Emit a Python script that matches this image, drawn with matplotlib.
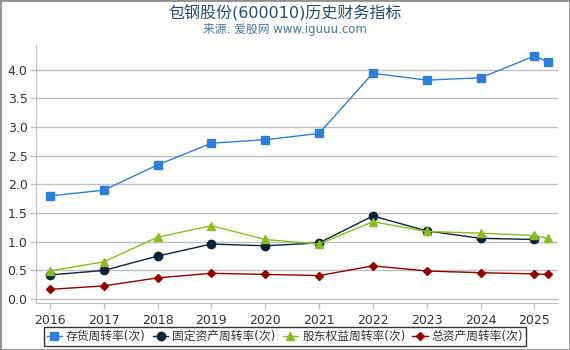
import matplotlib.pyplot as plt
import numpy as np

plt.rcParams['font.family'] = ['DejaVu Sans', 'Noto Sans CJK SC']

# periods (last one is the partial 2025 report)
periods = [2016, 2017, 2018, 2019, 2020, 2021, 2022, 2023, 2024, 2025, 2025.25]
year_ticks = [2016, 2017, 2018, 2019, 2020, 2021, 2022, 2023, 2024, 2025]

inventory = [1.80, 1.90, 2.34, 2.72, 2.78, 2.89, 3.94, 3.82, 3.86, 4.24, 4.14]
fixed_asset = [0.42, 0.50, 0.75, 0.96, 0.93, 0.98, 1.45, 1.19, 1.06, 1.04, np.nan]
equity = [0.49, 0.65, 1.08, 1.28, 1.04, 0.96, 1.35, 1.18, 1.15, 1.11, 1.06]
total_asset = [0.17, 0.23, 0.37, 0.45, 0.43, 0.41, 0.58, 0.49, 0.46, 0.44, 0.43]

names = ["存货周转率(次)", "固定资产周转率(次)", "股东权益周转率(次)", "总资产周转率(次)"]
colors = ["#2f7ed8", "#0d233a", "#8bbc21", "#910000"]
markers = ["s", "o", "^", "D"]
msizes = [6, 6, 6, 4.5]

fig = plt.figure(figsize=(5.7, 3.5), dpi=100)
ax = fig.add_axes([0.063, 0.134, 0.916, 0.737])

series = [inventory, fixed_asset, equity, total_asset]
for vals, name, c, m, ms in zip(series, names, colors, markers, msizes):
    ax.plot(periods, vals, color=c, lw=1, marker=m, markersize=ms,
            markeredgecolor=c, label=name, zorder=3)

ax.set_xlim(2015.74, 2025.44)
ax.set_ylim(-0.07, 4.43)
ax.set_xticks(year_ticks)
ax.set_yticks(np.arange(0, 4.01, 0.5))
ax.yaxis.set_major_formatter(plt.FuncFormatter(lambda v, p: "%.1f" % v))
ax.grid(axis='y', color='#c0c0c0', lw=1)
ax.set_axisbelow(True)
for s in ['top', 'right']:
    ax.spines[s].set_visible(False)
for s in ['left', 'bottom']:
    ax.spines[s].set_color('#c0c0c0')
ax.tick_params(axis='both', colors='#c0c0c0', labelcolor='#333333',
               labelsize=9, length=4, width=1)
ax.tick_params(axis='y', pad=2)

fig.text(0.5, 0.963, "包钢股份(600010)历史财务指标", ha='center', va='center',
         fontsize=11.5, color='#274b6d')
fig.text(0.5, 0.915, "来源: 爱股网 www.iguuu.com", ha='center', va='center',
         fontsize=8.5, color='#4d759e')

leg = fig.legend(loc='lower center', bbox_to_anchor=(0.5, 0.005), ncol=4,
                 fontsize=8.5, frameon=True, fancybox=False, handlelength=1.3,
                 handletextpad=0.35, columnspacing=0.6, borderpad=0.25,
                 borderaxespad=0.2)
leg.get_frame().set_edgecolor('black')
leg.get_frame().set_linewidth(1)
for t in leg.get_texts():
    t.set_color('#333333')

fig.patches.append(plt.Rectangle((0, 0), 1, 1, transform=fig.transFigure,
                                 fill=False, edgecolor='#909090', lw=2))

fig.savefig("out.png", dpi=100)
